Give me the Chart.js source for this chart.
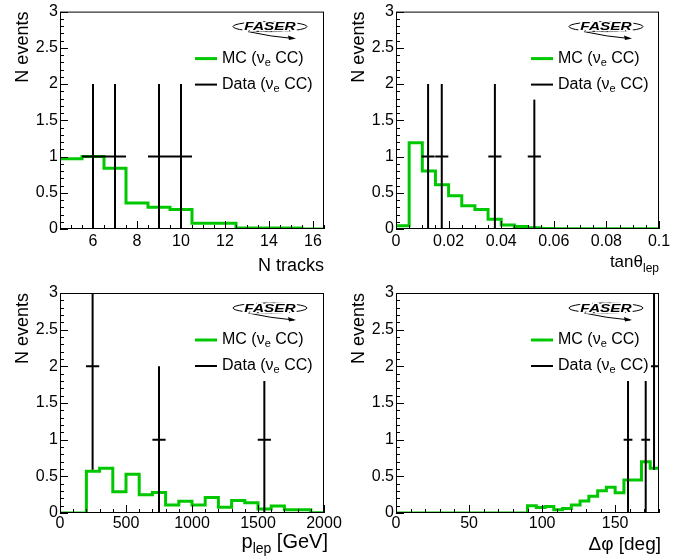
<!DOCTYPE html>
<html>
<head>
<meta charset="utf-8">
<script src="https://cdn.jsdelivr.net/npm/chart.js@4.4.1/dist/chart.umd.min.js"></script>
<style>
  body { margin: 0; background: #fff; }
  #wrap { position: relative; width: 692px; height: 560px; }
  canvas { position: absolute; }
</style>
</head>
<body>
<div id="wrap">
  <canvas id="c1" width="346" height="280" style="left:0;top:0"></canvas>
  <canvas id="c2" width="346" height="280" style="left:346px;top:0"></canvas>
  <canvas id="c3" width="346" height="280" style="left:0;top:280px"></canvas>
  <canvas id="c4" width="346" height="280" style="left:346px;top:280px"></canvas>
</div>
<script>
const GREEN = "rgb(0,200,0)";
const FONT = '"Liberation Sans", Arial, sans-serif';

/* ---------------- N tracks ---------------- */
const ntrkEdges = [4.5, 5.5, 6.5, 7.5, 8.5, 9.5, 10.5, 11.5, 12.5, 13.5, 14.5, 15.5, 16.5];
const ntrkMC = [0.97, 1.0, 0.84, 0.36, 0.30, 0.27, 0.08, 0.08, 0.015, 0.015, 0.015, 0.0];
const ntrkDataX = [6, 7, 9, 10];
const ntrkDataY = [1, 1, 1, 1];
const ntrkDataYErr = [1, 1, 1, 1];
const ntrkDataXErr = [0.5, 0.5, 0.5, 0.5];
const ntrkTicks = [6, 8, 10, 12, 14, 16];

/* ---------------- tan theta ---------------- */
const tanEdges = [0, 0.005, 0.01, 0.015, 0.02, 0.025, 0.03, 0.035, 0.04, 0.045, 0.05,
                  0.055, 0.06, 0.065, 0.07, 0.075, 0.08, 0.085, 0.09, 0.095, 0.1];
const tanMC = [0.045, 1.19, 0.80, 0.61, 0.46, 0.32, 0.27, 0.135, 0.054, 0.036,
               0.018, 0.006, 0.005, 0.005, 0.005, 0.005, 0.005, 0.005, 0.005, 0.005];
const tanDataX = [0.0122, 0.0174, 0.0376, 0.0526];
const tanDataY = [1, 1, 1, 1];
const tanDataYErr = [1, 1, 1, 1];
const tanDataXErr = [0.0025, 0.0025, 0.0025, 0.0025];
const tanTicks = [0, 0.02, 0.04, 0.06, 0.08, 0.1];

/* ---------------- p lep ---------------- */
const pEdges = [0, 100, 200, 300, 400, 500, 600, 700, 800, 900, 1000,
                1100, 1200, 1300, 1400, 1500, 1600, 1700, 1800, 1900, 2000];
const pMC = [0, 0, 0.57, 0.61, 0.29, 0.53, 0.25, 0.28, 0.11, 0.16,
             0.11, 0.21, 0.08, 0.17, 0.14, 0.055, 0.095, 0.045, 0.045, 0.005];
const pDataX = [247, 750, 1548];
const pDataY = [2, 1, 1];
const pDataYErr = [1.41, 1, 1];
const pDataXErr = [50, 50, 50];
const pTicks = [0, 500, 1000, 1500, 2000];

/* ---------------- delta phi ---------------- */
const phiEdges = [0, 6, 12, 18, 24, 30, 36, 42, 48, 54, 60, 66, 72, 78, 84, 90,
                  96, 102, 108, 114, 120, 126, 132, 138, 144, 150, 156, 162, 168, 174, 180];
const phiMC = [0, 0, 0, 0, 0, 0, 0, 0, 0, 0, 0, 0, 0, 0, 0,
               0.10, 0.075, 0.09, 0.045, 0.06, 0.11, 0.165, 0.23, 0.305, 0.35,
               0.275, 0.45, 0.45, 0.70, 0.61];
const phiDataX = [158.8, 170.9, 176.6];
const phiDataY = [1, 1, 2];
const phiDataYErr = [1, 1, 1.41];
const phiDataXErr = [3, 3, 3];
const phiTicks = [0, 50, 100, 150];

const panels = [
    { id: "c1", edges: ntrkEdges, mc: ntrkMC, dx: ntrkDataX, dy: ntrkDataY, dyErr: ntrkDataYErr, dxErr: ntrkDataXErr,
      xMin: 4.5, xMax: 16.5, ticks: ntrkTicks, minor: 0.5,
      yw: 60, right: 22, top: 10, xh: 51, labelPad: 3,
      title: [{ t: "N tracks", s: 18 }], titleDx: 0, titleDy: 42 },
    { id: "c2", edges: tanEdges, mc: tanMC, dx: tanDataX, dy: tanDataY, dyErr: tanDataYErr, dxErr: tanDataXErr,
      xMin: 0, xMax: 0.1, ticks: tanTicks, minor: 0.005,
      yw: 50, right: 33, top: 10, xh: 51, labelPad: 3,
      title: [{ t: "tanθ", s: 17 }, { t: "lep", s: 12, dy: 5 }], titleDx: 0, titleDy: 38 },
    { id: "c3", edges: pEdges, mc: pMC, dx: pDataX, dy: pDataY, dyErr: pDataYErr, dxErr: pDataXErr,
      xMin: 0, xMax: 2000, ticks: pTicks, minor: 100,
      yw: 60, right: 22, top: 13, xh: 47, labelPad: 1,
      title: [{ t: "p", s: 20 }, { t: "lep", s: 14, dy: 5 }, { t: " [GeV]", s: 20 }], titleDx: 4, titleDy: 35 },
    { id: "c4", edges: phiEdges, mc: phiMC, dx: phiDataX, dy: phiDataY, dyErr: phiDataYErr, dxErr: phiDataXErr,
      xMin: 0, xMax: 180, ticks: phiTicks, minor: 10,
      yw: 50, right: 33, top: 13, xh: 47, labelPad: 1,
      title: [{ t: "Δφ [deg]", s: 19 }], titleDx: 2, titleDy: 37 }
];

const richText = (ctx, parts, x, y, align) => {
    let w = 0;
    const sized = parts.map(p => {
        ctx.font = `${p.s}px ${FONT}`;
        const pw = ctx.measureText(p.t).width;
        w += pw;
        return { ...p, w: pw };
    });
    let cx = align === "right" ? x - w : x;
    sized.forEach(p => {
        ctx.font = `${p.s}px ${FONT}`;
        ctx.fillText(p.t, cx, y + (p.dy || 0));
        cx += p.w;
    });
};

const drawLogo = (ctx, cx, cy) => {
    ctx.save();
    ctx.strokeStyle = "#000";
    ctx.lineWidth = 1;
    ctx.beginPath();
    ctx.ellipse(cx, cy, 37, 5, 0, 0, 2 * Math.PI);
    ctx.stroke();
    // arrow swoosh
    ctx.beginPath();
    ctx.moveTo(cx - 22, cy + 5);
    ctx.quadraticCurveTo(cx, cy + 10, cx + 24, cy + 12);
    ctx.stroke();
    ctx.beginPath();
    ctx.moveTo(cx + 26, cy + 12);
    ctx.lineTo(cx + 18, cy + 9);
    ctx.lineTo(cx + 19, cy + 13.5);
    ctx.closePath();
    ctx.fillStyle = "#000";
    ctx.fill();
    // text
    ctx.translate(cx, cy);
    ctx.scale(1.4, 1);
    ctx.font = `italic bold 11px ${FONT}`;
    ctx.textAlign = "center";
    ctx.textBaseline = "middle";
    ctx.lineWidth = 3;
    ctx.strokeStyle = "#fff";
    ctx.strokeText("FASER", 0, 0.5);
    ctx.fillText("FASER", 0, 0.5);
    ctx.restore();
};

const makePlugin = (p) => ({
    id: "rootStyle",
    afterDatasetsDraw(chart) {
        const ctx = chart.ctx, a = chart.chartArea;
        const xs = chart.scales.x, ys = chart.scales.y;

        // data points with error bars
        ctx.save();
        ctx.beginPath();
        ctx.rect(a.left, a.top, a.right - a.left, a.bottom - a.top);
        ctx.clip();
        ctx.strokeStyle = "#000";
        ctx.lineWidth = 2;
        p.dx.forEach((x, i) => {
            const px = xs.getPixelForValue(x);
            const py = ys.getPixelForValue(p.dy[i]);
            ctx.beginPath();
            ctx.moveTo(px, ys.getPixelForValue(p.dy[i] - p.dyErr[i]));
            ctx.lineTo(px, ys.getPixelForValue(p.dy[i] + p.dyErr[i]));
            ctx.moveTo(xs.getPixelForValue(x - p.dxErr[i]), py);
            ctx.lineTo(xs.getPixelForValue(x + p.dxErr[i]), py);
            ctx.stroke();
        });
        ctx.restore();

        // legend (white box like ROOT TLegend)
        const L = a.left, T = a.top;
        ctx.save();
        ctx.fillStyle = "#fff";
        ctx.fillRect(L + 132, T + 1, 123, 87);
        ctx.lineWidth = 3;
        ctx.strokeStyle = GREEN;
        ctx.beginPath();
        ctx.moveTo(L + 135, T + 47);
        ctx.lineTo(L + 157, T + 47);
        ctx.stroke();
        ctx.lineWidth = 2;
        ctx.strokeStyle = "#000";
        ctx.beginPath();
        ctx.moveTo(L + 135, T + 73);
        ctx.lineTo(L + 157, T + 73);
        ctx.stroke();
        ctx.fillStyle = "#000";
        ctx.textBaseline = "middle";
        ctx.textAlign = "left";
        richText(ctx, [{ t: "MC (ν", s: 16 }, { t: "e", s: 11, dy: 4 }, { t: " CC)", s: 16 }], L + 162, T + 47, "left");
        richText(ctx, [{ t: "Data (ν", s: 16 }, { t: "e", s: 11, dy: 4 }, { t: " CC)", s: 16 }], L + 162, T + 73, "left");
        ctx.restore();

        drawLogo(ctx, L + 210, T + 15);
    },
    afterDraw(chart) {
        const ctx = chart.ctx, a = chart.chartArea;
        const xs = chart.scales.x, ys = chart.scales.y;
        const L = a.left, R = a.right, T = a.top, B = a.bottom;
        ctx.save();
        ctx.strokeStyle = "#000";
        ctx.lineWidth = 1;
        ctx.strokeRect(L + 0.5, T + 0.5, R - L - 1, B - T - 1);

        // x ticks (inside, ROOT style)
        const nx = Math.round((p.xMax - p.xMin) / p.minor);
        ctx.beginPath();
        for (let i = 0; i <= nx; i++) {
            const v = p.xMin + i * p.minor;
            const major = p.ticks.some(t => Math.abs(t - v) < p.minor / 10);
            const px = Math.round(xs.getPixelForValue(v)) + 0.5;
            ctx.moveTo(px, B);
            ctx.lineTo(px, B - (major ? 8 : 4));
        }
        // y ticks
        for (let i = 0; i <= 30; i++) {
            const v = i * 0.1;
            const py = Math.round(ys.getPixelForValue(v)) + 0.5;
            ctx.moveTo(L, py);
            ctx.lineTo(L + (i % 5 === 0 ? 8 : 4), py);
        }
        ctx.stroke();

        // axis titles
        ctx.fillStyle = "#000";
        ctx.textBaseline = "alphabetic";
        ctx.textAlign = "left";
        richText(ctx, p.title, R + p.titleDx, B + p.titleDy, "right");

        ctx.translate(L - 37, T);
        ctx.rotate(-Math.PI / 2);
        ctx.textAlign = "right";
        ctx.textBaseline = "middle";
        ctx.font = `18px ${FONT}`;
        ctx.fillText("N events", 0, 0);
        ctx.restore();
    }
});

panels.forEach(p => {
    const mcPoints = p.mc.flatMap((v, i) => [
        { x: p.edges[i], y: v },
        { x: p.edges[i + 1], y: v }
    ]);
    const dataPoints = p.dx.map((x, i) => ({ x, y: p.dy[i] }));

    new Chart(document.getElementById(p.id), {
        type: "scatter",
        data: {
            datasets: [
                {
                    label: "MC",
                    data: mcPoints,
                    showLine: true,
                    borderColor: GREEN,
                    borderWidth: 3,
                    borderJoinStyle: "miter",
                    pointRadius: 0,
                    tension: 0
                },
                {
                    label: "Data",
                    data: dataPoints,
                    pointRadius: 0,
                    showLine: false
                }
            ]
        },
        options: {
            responsive: false,
            animation: false,
            devicePixelRatio: 1,
            layout: { padding: { left: 0, right: p.right, top: p.top, bottom: 0 } },
            plugins: { legend: { display: false }, tooltip: { enabled: false } },
            scales: {
                x: {
                    type: "linear",
                    min: p.xMin,
                    max: p.xMax,
                    grid: { display: false, drawTicks: false },
                    border: { display: false },
                    afterBuildTicks: s => { s.ticks = p.ticks.map(v => ({ value: v })); },
                    afterFit: s => { s.height = p.xh; },
                    ticks: {
                        autoSkip: false,
                        maxRotation: 0,
                        padding: p.labelPad,
                        color: "#000",
                        font: { family: FONT, size: 16 },
                        callback: v => String(v)
                    }
                },
                y: {
                    min: 0,
                    max: 3,
                    grid: { display: false, drawTicks: false },
                    border: { display: false },
                    afterFit: s => { s.width = p.yw; },
                    ticks: {
                        stepSize: 0.5,
                        padding: 2,
                        color: "#000",
                        font: { family: FONT, size: 16 },
                        callback: v => String(v)
                    }
                }
            }
        },
        plugins: [makePlugin(p)]
    });
});
</script>
</body>
</html>
